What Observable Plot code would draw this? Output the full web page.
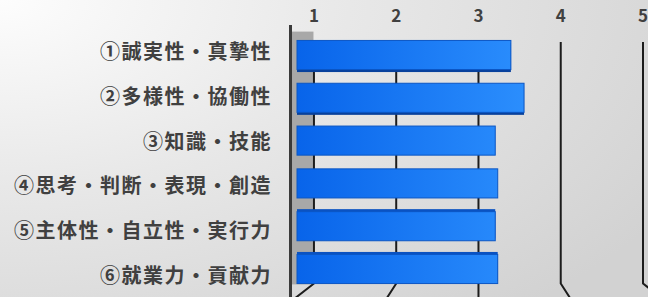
<!DOCTYPE html>
<html><head><meta charset="utf-8">
<script src="https://cdn.jsdelivr.net/npm/d3@7"></script>
<script src="https://cdn.jsdelivr.net/npm/@observablehq/plot@0.6"></script>
<style>
html,body{margin:0;padding:0;background:#fff;}
#chart{position:relative;width:648px;height:297px;overflow:hidden;
  background:radial-gradient(ellipse 120% 140% at 0% 0%, #fdfdfd 0%, #e8e8e8 45%, #d2d2d2 100%);}
#chart svg{position:absolute;left:0;top:0;background:transparent;}
</style></head><body><div id="chart"></div>
<script>
const categories = ["①誠実性・真摯性","②多様性・協働性","③知識・技能","④思考・判断・表現・創造","⑤主体性・自立性・実行力","⑥就業力・貢献力"];
const values = [3.40, 3.56, 3.21, 3.24, 3.21, 3.24];
const tickValues = [1, 2, 3, 4, 5];
const tickLabels = ["1", "2", "3", "4", "5"];

const data = categories.map((c, i) => ({category: c, value: values[i], index: i}));
const base = 0.8;      // front face of the wall
const wallX = 0.715;   // wall edge
const FONT = '"Noto Sans CJK JP", "Noto Sans", sans-serif';
const lastCat = categories[categories.length - 1];

const main = Plot.plot({
  width: 648, height: 297,
  marginLeft: 297, marginRight: 5.5, marginTop: 33.6, marginBottom: 6.6,
  style: {background: "transparent", fontFamily: FONT},
  x: {domain: [base, 5], range: [297, 642.5], axis: null},
  y: {type: "band", domain: categories, paddingInner: 0.32, paddingOuter: 0.16, round: false, axis: null},
  marks: [
    Plot.rect([{a: wallX, b: 1}], {x1: "a", x2: "b", fill: "#a8a8a8", insetTop: -2, insetBottom: 6}),
    Plot.ruleX(tickValues, {x: d => d, stroke: "#1c1c1c", strokeWidth: 2, insetTop: 8.4, insetBottom: 7.4}),
    Plot.vector(tickValues, {
      x: d => d, y: () => lastCat, dy: 14, length: 26, anchor: "start",
      rotate: d => 180 - Math.atan2((d - 3) * 9, 14) * 180 / Math.PI,
      shape: {draw(ctx, l) { ctx.moveTo(0, 0); ctx.lineTo(0, -l); }},
      stroke: "#1c1c1c", strokeWidth: 2
    }),
    Plot.ruleX([wallX], {x: d => d, stroke: "#3a3a3a", strokeWidth: 3, insetTop: -8.6, insetBottom: -6.6}),
    Plot.barX(data.filter(d => d.index < 2), {x1: base, x2: "value", y: "category", fill: "#08419c", dy: 2.5}),
    Plot.barX(data.filter(d => d.index > 3), {x1: base, x2: "value", y: "category", fill: "#0a52c2", dy: -2.5}),
    Plot.barX(data, {x1: base, x2: "value", y: "category", fill: "url(#barGrad)", stroke: "#0b56c4", strokeWidth: 1}),
    Plot.text(tickValues, {x: d => d, text: (d, i) => tickLabels[i], frameAnchor: "top", lineAnchor: "middle",
      dy: -17.2, fontSize: 17, fontWeight: "bold", fill: "#404040"})
  ]
});

d3.select(main).insert("defs", ":first-child").html(
  '<linearGradient id="barGrad" gradientUnits="userSpaceOnUse" x1="297" y1="0" x2="525" y2="0">' +
  '<stop offset="0" stop-color="#0864ea"/><stop offset="1" stop-color="#2b8efd"/></linearGradient>');

const labels = Plot.plot({
  width: 648, height: 299,
  marginLeft: 0, marginRight: 376.5, marginTop: 29.6, marginBottom: 0.6,
  style: {background: "transparent", fontFamily: FONT, letterSpacing: "1.5px"},
  y: {type: "band", domain: categories, padding: 0, round: false, axis: null},
  marks: [
    Plot.text(categories, {y: d => d, frameAnchor: "right", textAnchor: "end",
      fontSize: 20, fontWeight: "bold", fill: "#404040"})
  ]
});

const chart = document.getElementById("chart");
chart.appendChild(main);
chart.appendChild(labels);
</script></body></html>
